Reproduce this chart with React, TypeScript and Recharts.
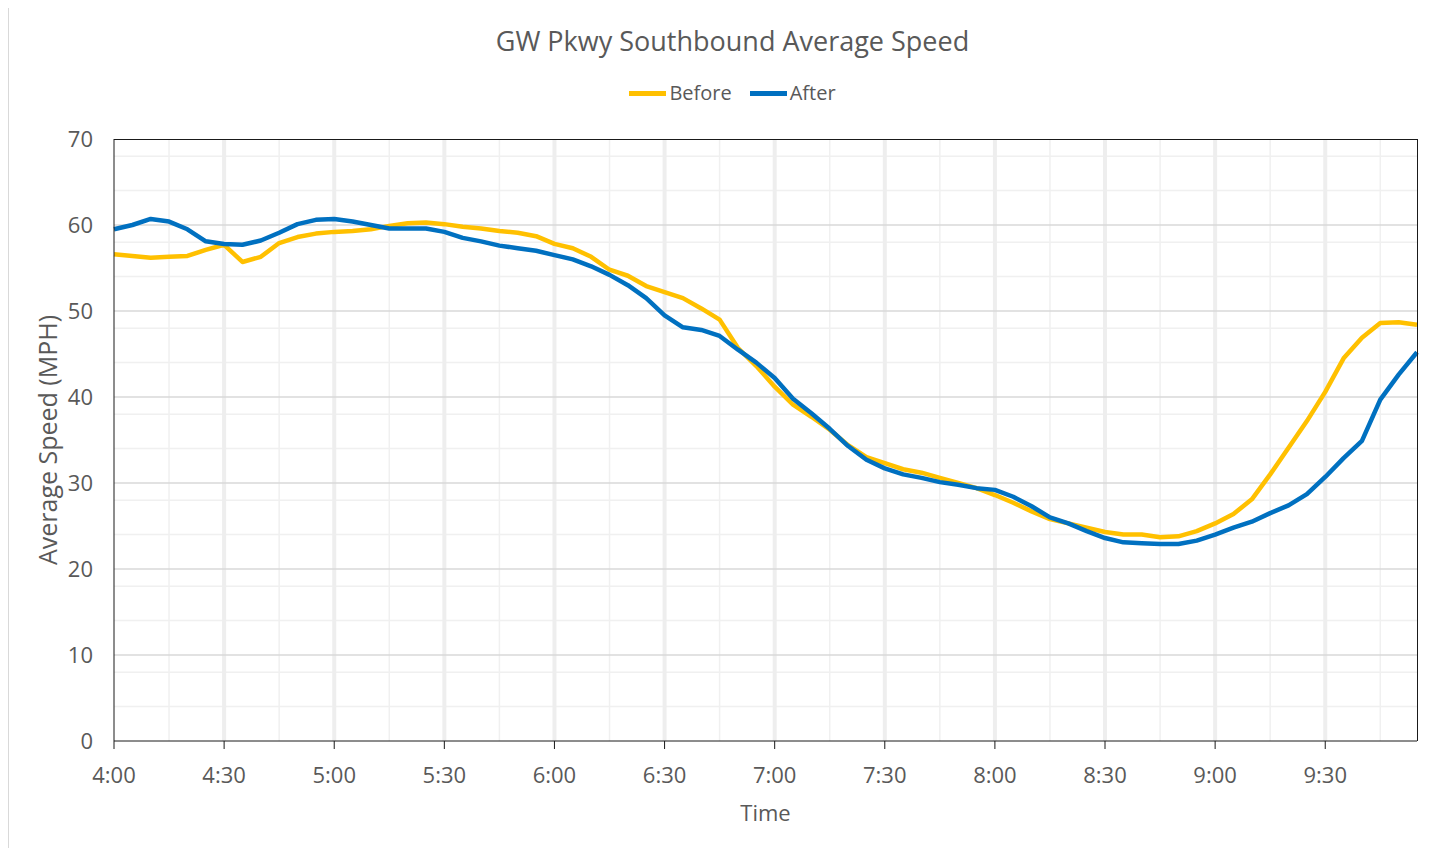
import React from "react";
import { CartesianGrid, Legend, Line, LineChart, XAxis, YAxis } from "recharts";

// 5-minute bins, 4:00 to 9:55
const times = [
  "4:00", "4:05", "4:10", "4:15", "4:20", "4:25", "4:30", "4:35", "4:40", "4:45", "4:50", "4:55",
  "5:00", "5:05", "5:10", "5:15", "5:20", "5:25", "5:30", "5:35", "5:40", "5:45", "5:50", "5:55",
  "6:00", "6:05", "6:10", "6:15", "6:20", "6:25", "6:30", "6:35", "6:40", "6:45", "6:50", "6:55",
  "7:00", "7:05", "7:10", "7:15", "7:20", "7:25", "7:30", "7:35", "7:40", "7:45", "7:50", "7:55",
  "8:00", "8:05", "8:10", "8:15", "8:20", "8:25", "8:30", "8:35", "8:40", "8:45", "8:50", "8:55",
  "9:00", "9:05", "9:10", "9:15", "9:20", "9:25", "9:30", "9:35", "9:40", "9:45", "9:50", "9:55",
];

const before = [
  56.6, 56.4, 56.2, 56.3, 56.4, 57.1, 57.7, 55.7, 56.3, 57.9, 58.6, 59.0,
  59.2, 59.3, 59.5, 59.9, 60.2, 60.3, 60.1, 59.8, 59.6, 59.3, 59.1, 58.7,
  57.8, 57.3, 56.3, 54.8, 54.1, 52.9, 52.2, 51.5, 50.3, 49.0, 45.7, 43.6,
  41.2, 39.1, 37.7, 36.2, 34.4, 33.0, 32.3, 31.6, 31.2, 30.6, 30.0, 29.4,
  28.6, 27.7, 26.7, 25.8, 25.3, 24.8, 24.3, 24.0, 24.0, 23.7, 23.8, 24.4,
  25.3, 26.4, 28.1, 31.0, 34.1, 37.2, 40.6, 44.5, 46.9, 48.6, 48.7, 48.4,
];

const after = [
  59.5, 60.0, 60.7, 60.4, 59.5, 58.1, 57.8, 57.7, 58.2, 59.1, 60.1, 60.6,
  60.7, 60.4, 60.0, 59.6, 59.6, 59.6, 59.2, 58.5, 58.1, 57.6, 57.3, 57.0,
  56.5, 56.0, 55.2, 54.2, 53.0, 51.5, 49.5, 48.1, 47.8, 47.1, 45.5, 44.0,
  42.2, 39.8, 38.1, 36.3, 34.3, 32.7, 31.7, 31.0, 30.6, 30.1, 29.8, 29.4,
  29.2, 28.4, 27.3, 26.0, 25.3, 24.4, 23.6, 23.1, 23.0, 22.9, 22.9, 23.3,
  24.0, 24.8, 25.5, 26.5, 27.4, 28.7, 30.7, 32.9, 34.9, 39.7, 42.6, 45.2,
];

const xTicks = ["4:00", "4:30", "5:00", "5:30", "6:00", "6:30", "7:00", "7:30", "8:00", "8:30", "9:00", "9:30"];
const xMajorGrid = ["4:30", "5:00", "5:30", "6:00", "6:30", "7:00", "7:30", "8:00", "8:30", "9:00", "9:30"];
const xMinorGrid = ["4:15", "4:45", "5:15", "5:45", "6:15", "6:45", "7:15", "7:45", "8:15", "8:45", "9:15", "9:45"];
const yTicks = [0, 10, 20, 30, 40, 50, 60, 70];
const yMajorGrid = [10, 20, 30, 40, 50, 60];
const yMinorGrid = [2, 4, 6, 8, 12, 14, 16, 18, 22, 24, 26, 28, 32, 34, 36, 38, 42, 44, 46, 48, 52, 54, 56, 58, 62, 64, 66, 68];

const series = [
  { key: "Before", color: "#FFC000" },
  { key: "After", color: "#0070C0" },
];

const data = times.map((time, i) => ({ time, Before: before[i], After: after[i] }));

const TEXT = "#595959";
const AXIS = "#1a1a1a";

// plot box inside the chart (margins + axis sizes)
const M = { top: 133, right: 39, left: 0, bottom: 0 };
const CHART_W = 1447;
const CHART_H = 840;
const Y_W = 105;
const X_H = 105;

function LegendContent() {
  return (
    <div style={{ display: "flex", justifyContent: "center", alignItems: "center", fontSize: 20, lineHeight: "20px", color: TEXT }}>
      {series.map((s, i) => (
        <div key={s.key} style={{ display: "flex", alignItems: "center", marginLeft: i ? 18 : 0 }}>
          <span style={{ display: "inline-block", width: 37, height: 5, background: s.color, marginRight: 3 }} />
          <span>{s.key}</span>
        </div>
      ))}
    </div>
  );
}

export default function App() {
  return (
    <div
      style={{
        position: "relative",
        marginTop: -3,
        width: 1449,
        height: 852,
        border: "1px solid #d9d9d9",
        boxSizing: "border-box",
        fontFamily: "'Open Sans', sans-serif",
        background: "#fff",
      }}
    >
      <div
        style={{
          position: "absolute",
          top: 21,
          left: 0,
          width: "100%",
          textAlign: "center",
          fontSize: 27,
          lineHeight: "27px",
          color: TEXT,
          zIndex: 2,
        }}
      >
        GW Pkwy Southbound Average Speed
      </div>
      <LineChart width={CHART_W} height={CHART_H} data={data} margin={M}>
        <CartesianGrid vertical={false} horizontalValues={yMinorGrid} stroke="#f0f0f0" strokeWidth={1.5} />
        <CartesianGrid horizontal={false} verticalValues={xMinorGrid} stroke="#f0f0f0" strokeWidth={1.5} />
        <CartesianGrid horizontal={false} verticalValues={xMajorGrid} stroke="#eeeeee" strokeWidth={4} />
        <CartesianGrid vertical={false} horizontalValues={yMajorGrid} stroke="#d9d9d9" strokeWidth={1.5} />
        <XAxis
          dataKey="time"
          ticks={xTicks}
          interval={0}
          height={X_H}
          tickSize={8}
          tickMargin={18}
          tick={{ fontSize: 22, fill: TEXT }}
          axisLine={{ stroke: AXIS }}
          tickLine={{ stroke: AXIS }}
          label={{
            content: (p: any) => {
              const vb = p.viewBox;
              return (
                <text x={vb.x + vb.width / 2} y={815} textAnchor="middle" fontSize={22} fill={TEXT}>
                  Time
                </text>
              );
            },
          }}
        />
        <YAxis
          domain={[0, 70]}
          ticks={yTicks}
          width={Y_W}
          tickSize={0}
          tickMargin={21}
          tickLine={false}
          tick={{ fontSize: 22, fill: TEXT }}
          axisLine={{ stroke: AXIS }}
          label={{
            content: (p: any) => {
              const vb = p.viewBox;
              const cx = 38;
              const cy = vb.y + vb.height / 2;
              return (
                <text
                  x={cx}
                  y={cy}
                  transform={`rotate(-90 ${cx} ${cy})`}
                  textAnchor="middle"
                  dominantBaseline="central"
                  fontSize={25}
                  fill={TEXT}
                >
                  Average Speed (MPH)
                </text>
              );
            },
          }}
        />
        <Legend
          verticalAlign="middle"
          align="center"
          layout="horizontal"
          wrapperStyle={{ top: 77, left: 0, width: "100%", height: 22 }}
          content={<LegendContent />}
        />
        {series.map((s) => (
          <Line
            key={s.key}
            type="linear"
            dataKey={s.key}
            stroke={s.color}
            strokeWidth={4.5}
            dot={false}
            strokeLinejoin="round"
            isAnimationActive={false}
          />
        ))}
      </LineChart>
      {/* top and right edges of the plot frame */}
      <div
        style={{
          position: "absolute",
          left: M.left + Y_W,
          top: M.top - 0.5,
          width: CHART_W - M.right - M.left - Y_W + 0.5,
          height: CHART_H - M.top - M.bottom - X_H,
          borderTop: `1px solid ${AXIS}`,
          borderRight: `1px solid ${AXIS}`,
          boxSizing: "border-box",
          pointerEvents: "none",
        }}
      />
    </div>
  );
}
